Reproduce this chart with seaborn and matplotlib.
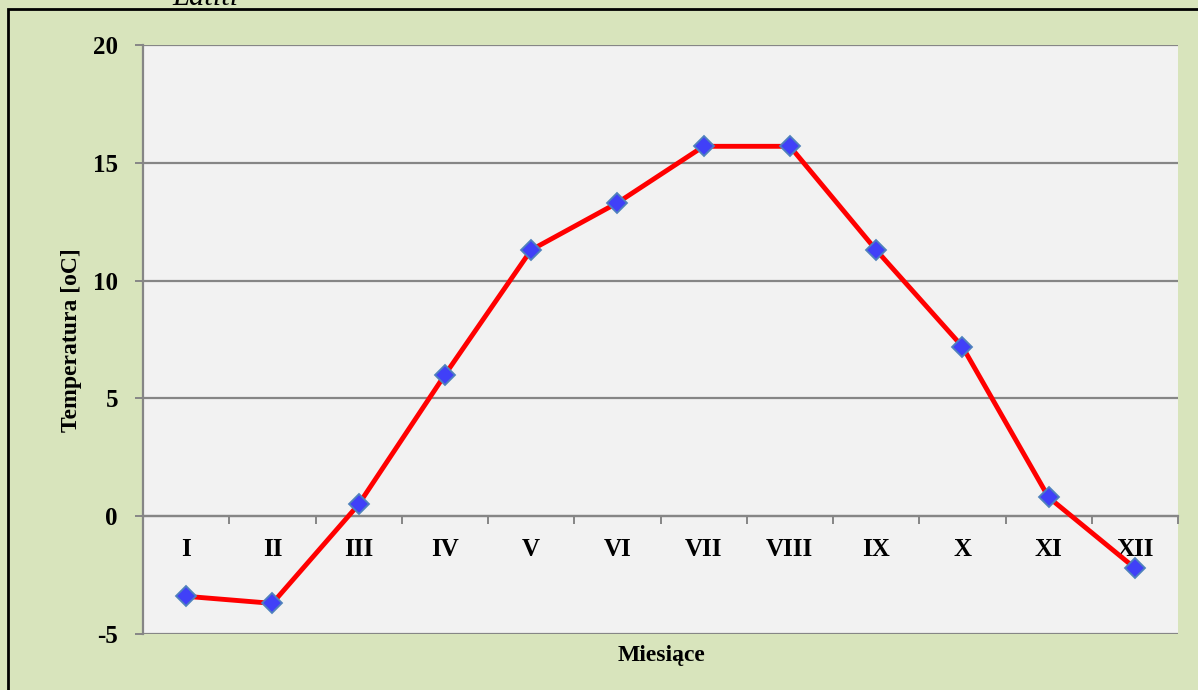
import pandas as pd
import matplotlib.pyplot as plt
import seaborn as sns
from matplotlib.patches import Rectangle
from matplotlib.ticker import FixedLocator

# monthly mean temperatures
months = ['I', 'II', 'III', 'IV', 'V', 'VI', 'VII', 'VIII', 'IX', 'X', 'XI', 'XII']
temps = [-3.4, -3.7, 0.5, 6.0, 11.3, 13.3, 15.7, 15.7, 11.3, 7.2, 0.8, -2.2]
y_ticks = [-5, 0, 5, 10, 15, 20]

df = pd.DataFrame({'Miesiac': months, 'Temp': temps})

sns.set_style('white')
plt.rcParams['font.family'] = ['Liberation Serif', 'DejaVu Serif']
plt.rcParams['font.weight'] = 'bold'
plt.rcParams['text.color'] = 'black'
plt.rcParams['xtick.color'] = 'black'
plt.rcParams['ytick.color'] = 'black'
plt.rcParams['axes.unicode_minus'] = False

W, H = 1198, 690
fig = plt.figure(figsize=(W / 100, H / 100), dpi=100, facecolor='#D8E4BC')
ax = fig.add_axes([143 / W, (H - 634) / H, 1035 / W, 589 / H])
ax.set_facecolor('#F2F2F2')

grey = '#868686'

# plot line with diamond markers
sns.lineplot(data=df, x='Miesiac', y='Temp', ax=ax, color='#FF0000', linewidth=3.5,
             marker='D', markersize=10.5, markerfacecolor='#4040F8',
             markeredgecolor='#4F81BD', markeredgewidth=1.3, sort=False, zorder=5)

ax.set_xlim(-0.5, len(months) - 0.5)
ax.set_ylim(-5, 20)
ax.set_yticks(y_ticks)
ax.yaxis.grid(True, color=grey, linewidth=1.6)
ax.set_axisbelow(True)

for s in ['top', 'right']:
    ax.spines[s].set_visible(False)
ax.spines['left'].set_color(grey)
ax.spines['left'].set_linewidth(1.6)
ax.spines['bottom'].set_position(('data', 0))
ax.spines['bottom'].set_color(grey)
ax.spines['bottom'].set_linewidth(1.6)

ax.set_xticks(range(len(months)))
ax.set_xticklabels(months)
ax.xaxis.set_minor_locator(FixedLocator([i - 0.5 for i in range(len(months) + 1)]))
ax.tick_params(axis='x', which='both', bottom=True)
ax.tick_params(axis='x', which='major', length=0, pad=16, labelsize=18, labelcolor='black')
ax.tick_params(axis='x', which='minor', length=6, width=1.4, color=grey, direction='out')
ax.tick_params(axis='y', left=True, length=6, width=1.4, color=grey, direction='out', pad=12,
               labelsize=18, labelcolor='black')
for lab in ax.get_xticklabels() + ax.get_yticklabels():
    lab.set_fontweight('bold')

ax.set_xlabel('')
ax.set_ylabel('')
fig.text(661 / W, 1 - 656 / H, 'Miesiące', ha='center', va='center', fontsize=17,
         fontweight='bold', color='black')
fig.text(72 / W, 1 - 340 / H, 'Temperatura [oC]', ha='center', va='center', rotation=90,
         fontsize=17, fontweight='bold', color='black')

# title cut off at the top edge, as in the source
fig.text(205 / W, 1 - 5 / H, 'Latitl', ha='center', va='baseline', fontsize=22, style='italic',
         fontweight='normal', color='black')

# outer chart border
fig.patches.append(Rectangle((8 / W, -0.01), 1.05, 1 - 9 / H + 0.01, transform=fig.transFigure,
                             fill=False, edgecolor='black', linewidth=2, zorder=10))

fig.savefig('out.png', dpi=100, facecolor=fig.get_facecolor())
